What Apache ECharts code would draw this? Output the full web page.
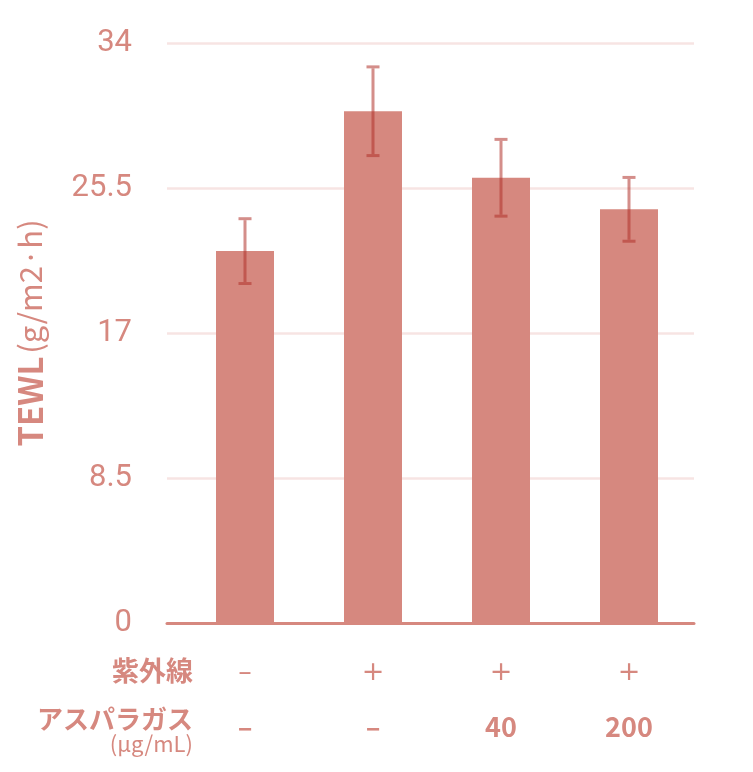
<!DOCTYPE html>
<html><head><meta charset="utf-8">
<script src="https://cdn.jsdelivr.net/npm/echarts@6/dist/echarts.min.js"></script>
<style>html,body{margin:0;padding:0;background:#fff}#c{width:753px;height:772px}</style>
</head><body><div id="c"></div>
<script>
const categories = ['A', 'B', 'C', 'D'];
const uvLabels = ['–', '+', '+', '+'];
const asparagusLabels = ['–', '–', '40', '200'];
const tewlMeans = [21.8, 30.0, 26.1, 24.25];
const tewlErrors = [1.9, 2.6, 2.25, 1.87];
const yTicks = [0, 8.5, 17, 25.5, 34];

const MAIN = '#D6887F';
const ERR = 'rgba(176,50,42,0.55)';
const GRID = '#F7E4E3';

const chart = echarts.init(document.getElementById('c'));
const errData = categories.map((c, i) => [i, tewlMeans[i] - tewlErrors[i], tewlMeans[i] + tewlErrors[i]]);

chart.setOption({
  animation: false,
  grid: [
    {left: 167, right: 59, top: 43, bottom: 149},
    {left: 181, right: 60, top: 43, bottom: 149}
  ],
  xAxis: [
    {gridIndex: 0, type: 'value', min: 0, max: 1, axisLabel: {show: false}, axisTick: {show: false},
     splitLine: {show: false}, axisLine: {show: true, onZero: false, lineStyle: {color: MAIN, width: 3}}},
    {gridIndex: 1, type: 'category', data: categories, axisLine: {show: false}, axisTick: {show: false},
     axisLabel: {
       margin: 23,
       formatter: (v, i) => '{a|' + uvLabels[i] + '}\n{b|' + asparagusLabels[i] + '}',
       rich: {
         a: {fontFamily: 'DejaVu Sans', fontSize: 27, color: MAIN, lineHeight: 54, fontWeight: 'normal'},
         b: {fontFamily: 'Noto Sans CJK JP', fontSize: 27, color: MAIN, lineHeight: 54, fontWeight: 'bold'}
       }
     }}
  ],
  yAxis: [
    {gridIndex: 0, type: 'value', min: yTicks[0], max: yTicks[yTicks.length - 1], interval: 8.5,
     axisLine: {show: false}, axisTick: {show: false},
     axisLabel: {margin: 35, fontFamily: 'Roboto', fontSize: 31, fontWeight: 'normal', color: MAIN},
     splitLine: {lineStyle: {color: GRID, width: 2.5}},
     name: '{b|TEWL} {r|(g/m2·h)}', nameLocation: 'middle', nameGap: 120, nameRotate: 90,
     nameTextStyle: {color: MAIN, fontFamily: 'Noto Sans CJK JP', rich: {
       b: {fontFamily: 'Noto Sans CJK JP', fontSize: 33, fontWeight: 'bold', color: MAIN},
       r: {fontFamily: 'Noto Sans CJK JP', fontSize: 31, fontWeight: 'normal', color: MAIN}
     }}},
    {gridIndex: 1, type: 'value', min: 0, max: 34, show: false}
  ],
  graphic: [
    {type: 'text', right: 753 - 193, top: 657, style: {text: '紫外線', fontFamily: 'Noto Sans CJK JP', fontSize: 27, fontWeight: 'bold', fill: MAIN}},
    {type: 'text', right: 753 - 193, top: 706, style: {text: 'アスパラガス', fontFamily: 'Noto Sans CJK JP', fontSize: 26, fontWeight: 'bold', fill: MAIN}},
    {type: 'text', right: 753 - 193, top: 733, style: {text: '(μg/mL)', fontFamily: 'Noto Sans CJK JP', fontSize: 22, fill: MAIN}}
  ],
  series: [
    {type: 'bar', xAxisIndex: 1, yAxisIndex: 1, data: tewlMeans, barWidth: 58,
     itemStyle: {color: MAIN}},
    {type: 'custom', xAxisIndex: 1, yAxisIndex: 1, data: errData, z: 5,
     renderItem: function (params, api) {
       const x = api.value(0);
       const lo = api.coord([x, api.value(1)]);
       const hi = api.coord([x, api.value(2)]);
       const cx = lo[0];
       const hw = 6.5;
       return {type: 'group', children: [
         {type: 'rect', shape: {x: cx - 1.5, y: hi[1] + 1.5, width: 3, height: lo[1] - hi[1] - 3}, style: {fill: ERR}},
         {type: 'rect', shape: {x: cx - hw, y: hi[1] - 1.5, width: hw * 2, height: 3}, style: {fill: ERR}},
         {type: 'rect', shape: {x: cx - hw, y: lo[1] - 1.5, width: hw * 2, height: 3}, style: {fill: ERR}}
       ]};
     }}
  ]
});
</script></body></html>
